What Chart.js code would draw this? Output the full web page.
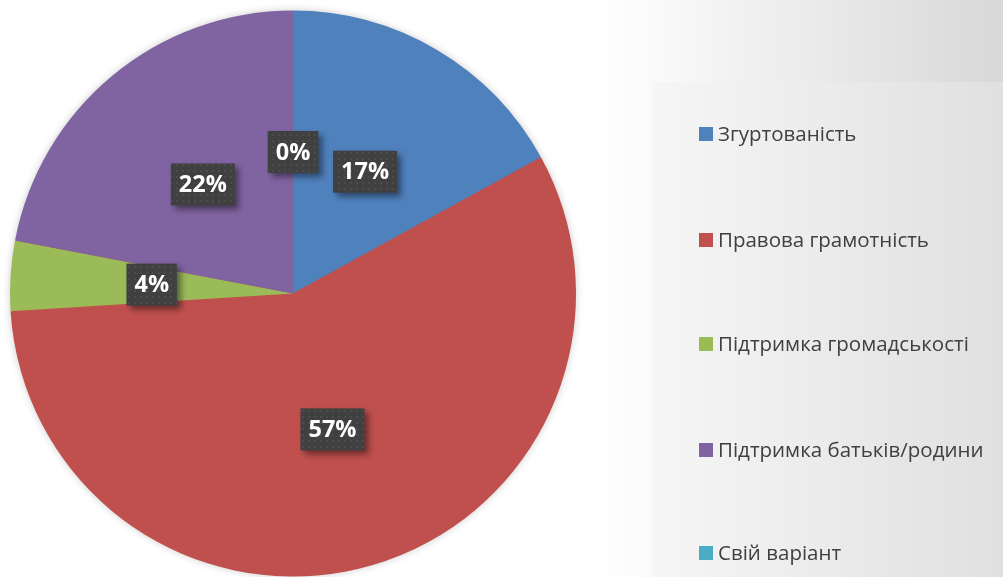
<!DOCTYPE html>
<html>
<head>
<meta charset="utf-8">
<script src="https://cdn.jsdelivr.net/npm/chart.js@4"></script>
<style>
  html, body { margin: 0; padding: 0; background: #fff; }
  #wrap { width: 1003px; height: 577px; position: relative; }
</style>
</head>
<body>
<div id="wrap"><canvas id="chart1" width="1003" height="577"></canvas></div>
<script>
// Data
const categories = ['Згуртованість', 'Правова грамотність', 'Підтримка громадськості', 'Підтримка батьків/родини', 'Свій варіант'];
const percentValues = [17, 57, 4, 22, 0];
const sliceColors = ['#4f81bd', '#c0504d', '#9bbb59', '#8064a2', '#4bacc6'];

// pattern for the label boxes (dark with small dots)
function makePattern(ctx) {
  const c = document.createElement('canvas');
  c.width = 6; c.height = 6;
  const p = c.getContext('2d');
  p.fillStyle = '#404040';
  p.fillRect(0, 0, 6, 6);
  p.fillStyle = '#4c4c4c';
  p.fillRect(2, 2, 2, 2);
  return ctx.createPattern(c, 'repeat');
}

// background gradient + legend panel
const backgroundPlugin = {
  id: 'bg',
  beforeDraw(chart) {
    const ctx = chart.ctx;
    ctx.save();
    const g = ctx.createLinearGradient(600, 0, 1003, 0);
    g.addColorStop(0, '#ffffff');
    g.addColorStop(1, '#d8d8d8');
    ctx.fillStyle = g;
    ctx.fillRect(0, 0, chart.width, chart.height);
    const g2 = ctx.createLinearGradient(652, 0, 1003, 0);
    g2.addColorStop(0, '#f6f6f6');
    g2.addColorStop(1, '#e0e0e0');
    ctx.fillStyle = g2;
    ctx.fillRect(652, 82, 351, 495);
    ctx.restore();
  },
  // soft shadow round the pie
  beforeDatasetsDraw(chart) {
    const arc = chart.getDatasetMeta(0).data[0];
    if (!arc) return;
    const ctx = chart.ctx;
    ctx.save();
    ctx.shadowColor = 'rgba(0,0,0,0.25)';
    ctx.shadowBlur = 8;
    ctx.fillStyle = sliceColors[1];
    ctx.beginPath();
    ctx.arc(arc.x, arc.y, arc.outerRadius - 1, 0, Math.PI * 2);
    ctx.fill();
    ctx.restore();
  }
};

// legend drawn on the right side
const legendPlugin = {
  id: 'sideLegend',
  afterDraw(chart) {
    const ctx = chart.ctx;
    const ys = [134, 240, 344, 450, 553];
    ctx.save();
    ctx.font = '20.5px "Open Sans"';
    ctx.textBaseline = 'middle';
    chart.data.labels.forEach((label, i) => {
      ctx.fillStyle = sliceColors[i];
      ctx.fillRect(699, ys[i] - 7, 14, 14);
      ctx.fillStyle = '#404040';
      ctx.fillText(label, 718, ys[i] + 1);
    });
    ctx.restore();
  }
};

// percent labels in dark boxes
const labelPlugin = {
  id: 'boxLabels',
  afterDatasetsDraw(chart) {
    const ctx = chart.ctx;
    const meta = chart.getDatasetMeta(0);
    const pattern = makePattern(ctx);
    ctx.save();
    ctx.font = 'bold 23.5px "Open Sans"';
    ctx.textAlign = 'center';
    ctx.textBaseline = 'middle';
    meta.data.forEach((arc, i) => {
      const pos = arc.tooltipPosition();
      const text = percentValues[i] + '%';
      const w = ctx.measureText(text).width + 16;
      const h = 42;
      ctx.save();
      ctx.shadowColor = 'rgba(0,0,0,0.45)';
      ctx.shadowBlur = 6;
      ctx.shadowOffsetX = 4;
      ctx.shadowOffsetY = 4;
      ctx.fillStyle = pattern;
      ctx.fillRect(pos.x - w / 2, pos.y - h / 2, w, h);
      ctx.restore();
      ctx.fillStyle = '#ffffff';
      ctx.fillText(text, pos.x, pos.y + 1);
    });
    ctx.restore();
  }
};

const ctx = document.getElementById('chart1').getContext('2d');
new Chart(ctx, {
  type: 'pie',
  data: {
    labels: categories,
    datasets: [{
      data: percentValues,
      backgroundColor: sliceColors,
      borderWidth: 0
    }]
  },
  options: {
    responsive: false,
    animation: false,
    layout: { padding: { left: 10, top: 10, right: 427, bottom: 0 } },
    plugins: {
      legend: { display: false },
      tooltip: { enabled: false }
    }
  },
  plugins: [backgroundPlugin, legendPlugin, labelPlugin]
});
</script>
</body>
</html>
